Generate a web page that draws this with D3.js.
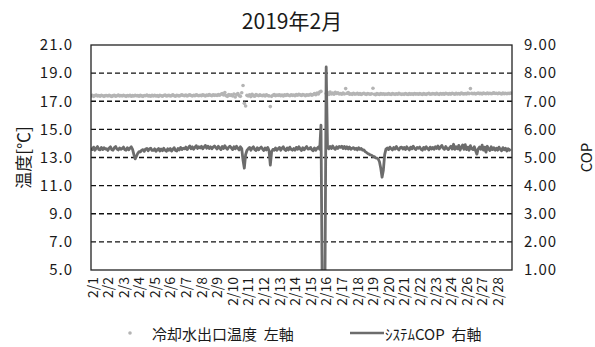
<!DOCTYPE html>
<html>
<head>
<meta charset="utf-8">
<script src="https://cdn.jsdelivr.net/npm/d3@7/dist/d3.min.js"></script>
<style>
  body { margin: 0; background: #fff; }
  svg { display: block; }
  text { font-family: "Noto Sans CJK JP", "Noto Sans", sans-serif; fill: #1a1a1a; }
</style>
</head>
<body>
<svg id="chart" width="595" height="347"></svg>
<script>
// Day labels on the category axis (no data was logged on 2/25)
const dayLabels = ["2/1","2/2","2/3","2/4","2/5","2/6","2/7","2/8","2/9","2/10",
  "2/11","2/12","2/13","2/14","2/15","2/16","2/17","2/18","2/19","2/20",
  "2/21","2/22","2/23","2/24","2/26","2/27","2/28"];

// Readings every 2 hours (12 per day)
const samplesPerDay = 12;

// System COP (right axis)
const copValues = [
  5.34,5.28,5.37,5.26,5.33,5.39,5.29,5.27,5.36,5.28,5.35,5.30, // 2/1
  5.31,5.25,5.34,5.38,5.28,5.26,5.35,5.39,5.30,5.27,5.34,5.29, // 2/2
  5.32,5.37,5.28,5.26,5.35,5.27,5.33,5.38,5.29,5.10,4.95,5.05, // 2/3
  5.15,5.21,5.20,5.26,5.28,5.22,5.30,5.32,5.24,5.31,5.33,5.25, // 2/4
  5.25,5.31,5.22,5.28,5.32,5.23,5.30,5.24,5.33,5.26,5.22,5.31, // 2/5
  5.26,5.32,5.23,5.29,5.35,5.25,5.23,5.32,5.27,5.36,5.28,5.33, // 2/6
  5.31,5.37,5.28,5.35,5.41,5.31,5.38,5.29,5.36,5.42,5.32,5.38, // 2/7
  5.34,5.40,5.31,5.37,5.43,5.33,5.40,5.32,5.38,5.31,5.37,5.41, // 2/8
  5.35,5.30,5.40,5.34,5.28,5.39,5.32,5.42,5.34,5.29,5.37,5.40, // 2/9
  5.34,5.28,5.38,5.31,5.40,5.33,5.27,5.38,5.32,4.90,4.62,5.10, // 2/10
  5.25,5.31,5.36,5.26,5.34,5.38,5.28,5.25,5.35,5.27,5.33,5.37, // 2/11
  5.30,5.25,5.34,5.27,5.36,5.25,4.73,5.20,5.29,5.26,5.34,5.26, // 2/12
  5.31,5.36,5.26,5.33,5.38,5.28,5.25,5.34,5.27,5.37,5.29,5.26, // 2/13
  5.32,5.26,5.36,5.29,5.38,5.30,5.25,5.35,5.27,5.34,5.39,5.30, // 2/14
  5.31,5.36,5.27,5.24,5.34,5.26,5.33,5.37,5.29,6.15,0.00,0.00, // 2/15
  0.00,8.22,5.37,5.31,5.39,5.32,5.41,5.33,5.29,5.38,5.32,5.39, // 2/16
  5.36,5.40,5.32,5.39,5.31,5.38,5.30,5.37,5.29,5.33,5.35,5.29, // 2/17
  5.33,5.27,5.35,5.29,5.32,5.26,5.27,5.21,5.18,5.14,5.12,5.09, // 2/18
  5.08,5.04,5.03,4.99,4.98,4.95,4.85,4.62,4.30,4.55,5.10,5.30, // 2/19
  5.34,5.28,5.37,5.31,5.27,5.36,5.30,5.39,5.31,5.27,5.35,5.37, // 2/20
  5.30,5.36,5.28,5.38,5.32,5.27,5.37,5.31,5.40,5.32,5.28,5.36, // 2/21
  5.33,5.37,5.29,5.26,5.36,5.29,5.38,5.32,5.27,5.37,5.30,5.36, // 2/22
  5.29,5.38,5.32,5.41,5.30,5.37,5.43,5.33,5.29,5.39,5.32,5.28, // 2/23
  5.35,5.40,5.30,5.47,5.29,5.38,5.31,5.43,5.26,5.37,5.45,5.29, // 2/24
  5.46,5.28,5.37,5.26,5.42,5.31,5.28,5.38,5.24,5.12,5.31,5.37, // 2/26
  5.29,5.44,5.26,5.37,5.19,5.40,5.30,5.25,5.38,5.28,5.35,5.26, // 2/27
  5.33,5.26,5.37,5.29,5.24,5.35,5.27,5.33,5.23,5.31,5.26,5.30  // 2/28
];

// Cooling water outlet temperature [°C] (left axis); null = not logged
const tempValues = [
  17.38,17.42,17.35,17.40,17.44,17.37,17.41,17.36,17.43,17.39,17.35,17.40, // 2/1
  17.41,17.37,17.43,17.38,17.34,17.40,17.42,17.36,17.39,17.44,17.38,17.41, // 2/2
  17.37,17.42,17.39,17.35,17.41,17.38,17.43,17.36,17.40,17.37,17.42,17.39, // 2/3
  17.40,17.36,17.42,17.38,17.35,17.41,17.39,17.44,17.37,17.40,17.36,17.42, // 2/4
  17.38,17.43,17.37,17.40,17.35,17.42,17.39,17.36,17.41,17.44,17.38,17.40, // 2/5
  17.42,17.37,17.40,17.45,17.39,17.36,17.43,17.40,17.38,17.42,17.46,17.41, // 2/6
  17.40,17.44,17.38,17.42,17.46,17.41,17.37,17.43,17.40,17.45,17.42,17.39, // 2/7
  17.43,17.40,17.46,17.42,17.38,17.44,17.41,17.47,17.43,17.40,17.45,17.42, // 2/8
  17.44,17.41,17.47,17.43,17.50,17.55,17.45,17.62,17.40,17.35,17.48,17.42, // 2/9
  17.45,17.38,17.52,17.30,17.48,17.55,17.40,17.35,17.60,18.12,16.85,16.66, // 2/10
  17.42,17.38,17.46,17.33,17.50,17.40,17.36,17.48,17.43,17.39,17.45,17.41, // 2/11
  17.40,17.44,17.37,17.46,17.41,17.38,16.62,17.35,17.43,17.47,17.40,17.44, // 2/12
  17.42,17.46,17.40,17.44,17.38,17.45,17.41,17.47,17.43,17.39,17.46,17.42, // 2/13
  17.44,17.40,17.47,17.43,17.50,17.45,17.41,17.48,17.44,17.40,17.46,17.43, // 2/14
  17.45,17.50,17.43,17.48,17.55,17.46,17.58,17.52,17.65,17.70,null,null,   // 2/15
  null,17.55,17.62,17.48,17.65,17.52,17.58,17.50,17.63,17.55,17.60,17.52,  // 2/16
  17.55,17.50,17.58,17.52,17.90,17.56,17.62,17.50,17.53,17.49,17.56,17.51, // 2/17
  17.52,17.56,17.50,17.54,17.48,17.53,17.57,17.51,17.49,17.55,17.52,17.50, // 2/18
  17.53,17.92,17.50,17.47,17.54,17.51,17.48,17.55,17.50,17.53,17.49,17.52, // 2/19
  17.50,17.54,17.51,17.48,17.55,17.52,17.49,17.53,17.50,17.56,17.52,17.49, // 2/20
  17.52,17.49,17.55,17.51,17.48,17.54,17.50,17.53,17.49,17.55,17.51,17.53, // 2/21
  17.50,17.54,17.52,17.48,17.55,17.51,17.49,17.53,17.56,17.50,17.52,17.54, // 2/22
  17.53,17.50,17.56,17.52,17.49,17.55,17.51,17.54,17.50,17.57,17.53,17.51, // 2/23
  17.54,17.51,17.57,17.53,17.50,17.56,17.52,17.55,17.51,17.58,17.54,17.52, // 2/24
  17.55,17.52,17.58,17.54,17.90,17.56,17.53,17.57,17.52,17.55,17.59,17.54, // 2/26
  17.56,17.52,17.58,17.55,17.53,17.59,17.54,17.57,17.53,17.56,17.60,17.55, // 2/27
  17.57,17.53,17.59,17.55,17.52,17.58,17.54,17.57,17.53,17.56,17.55,17.58  // 2/28
];

const leftTicks = [5, 7, 9, 11, 13, 15, 17, 19, 21];
const rightTicks = [1, 2, 3, 4, 5, 6, 7, 8, 9];

const titleText = "2019年2月";
const leftTitle = "温度[℃]";
const rightTitle = "COP";
const tempName = "冷却水出口温度  左軸";
const copName = "ｼｽﾃﾑCOP  右軸";

const tempColor = "#b4b4b4";
const copColor = "#6c6c6c";

const plot = { left: 91, right: 512, top: 45, bottom: 270 };
const svg = d3.select("#chart");

const x = d3.scaleLinear().domain([0, dayLabels.length]).range([plot.left, plot.right]);
const yLeft = d3.scaleLinear().domain([5, 21]).range([plot.bottom, plot.top]);
const yRight = d3.scaleLinear().domain([1, 9]).range([plot.bottom, plot.top]);

const tOf = i => i / samplesPerDay;

svg.append("defs").append("clipPath").attr("id", "plotClip")
  .append("rect")
  .attr("x", plot.left).attr("y", plot.top)
  .attr("width", plot.right - plot.left).attr("height", plot.bottom - plot.top);

// Title
svg.append("text")
  .attr("x", 292).attr("y", 29)
  .attr("text-anchor", "middle")
  .style("font-size", "21px")
  .text(titleText);

// Dashed horizontal gridlines
svg.append("g").selectAll("line")
  .data(leftTicks.filter(v => v > 5 && v < 21))
  .join("line")
  .attr("x1", plot.left).attr("x2", plot.right)
  .attr("y1", d => yLeft(d)).attr("y2", d => yLeft(d))
  .attr("stroke", "#111").attr("stroke-width", 1.3)
  .attr("stroke-dasharray", "5,3");

// Left axis
const leftAxis = d3.axisLeft(yLeft).tickValues(leftTicks).tickSize(0).tickPadding(18)
  .tickFormat(d => d3.format(".1f")(d));
const gl = svg.append("g").attr("transform", `translate(${plot.left},0)`).call(leftAxis);
gl.select(".domain").remove();
gl.selectAll("text").style("font-size", "15px").style("font-family", "\"Noto Sans CJK JP\", sans-serif")
  .attr("fill", "#1a1a1a").attr("letter-spacing", "1px");

// Right axis
const rightAxis = d3.axisRight(yRight).tickValues(rightTicks).tickSize(0).tickPadding(12)
  .tickFormat(d => d3.format(".2f")(d));
const gr = svg.append("g").attr("transform", `translate(${plot.right},0)`).call(rightAxis);
gr.select(".domain").remove();
gr.selectAll("text").style("font-size", "15px").style("font-family", "\"Noto Sans CJK JP\", sans-serif")
  .attr("fill", "#1a1a1a").attr("letter-spacing", "1px");

// Bottom axis: one label per day, rotated
const bottomAxis = d3.axisBottom(x).tickValues(d3.range(dayLabels.length)).tickSize(0)
  .tickFormat(i => dayLabels[i]);
const gb = svg.append("g").attr("transform", `translate(0,${plot.bottom})`).call(bottomAxis);
gb.select(".domain").remove();
gb.selectAll("text")
  .style("font-size", "14px").style("font-family", "\"Noto Sans CJK JP\", sans-serif")
  .attr("fill", "#1a1a1a")
  .attr("text-anchor", "end")
  .attr("dominant-baseline", "central")
  .attr("dy", null)
  .attr("y", 0)
  .attr("transform", "translate(0,7) rotate(-90)");

// Axis titles
svg.append("text")
  .attr("transform", `translate(22,${(plot.top + plot.bottom) / 2}) rotate(-90)`)
  .attr("text-anchor", "middle").attr("dominant-baseline", "central")
  .style("font-size", "17px")
  .text(leftTitle);
svg.append("text")
  .attr("transform", `translate(585,${(plot.top + plot.bottom) / 2}) rotate(-90)`)
  .attr("text-anchor", "middle").attr("dominant-baseline", "central")
  .style("font-size", "15px")
  .text(rightTitle);

// Series
const data = d3.range(copValues.length).map(i => ({ t: tOf(i), cop: copValues[i], temp: tempValues[i] }));
const pg = svg.append("g").attr("clip-path", "url(#plotClip)");

pg.append("g").selectAll("circle")
  .data(data.filter(d => d.temp != null))
  .join("circle")
  .attr("cx", d => x(d.t)).attr("cy", d => yLeft(d.temp))
  .attr("r", 1.8).attr("fill", tempColor);

pg.append("path")
  .datum(data)
  .attr("fill", "none").attr("stroke", copColor).attr("stroke-width", 2.8)
  .attr("stroke-linejoin", "round")
  .attr("d", d3.line().x(d => x(d.t)).y(d => yRight(d.cop)));

// Plot frame
svg.append("rect")
  .attr("x", plot.left).attr("y", plot.top)
  .attr("width", plot.right - plot.left).attr("height", plot.bottom - plot.top)
  .attr("fill", "none").attr("stroke", "#222").attr("stroke-width", 1.3);

// Legend
const lg = svg.append("g").attr("transform", "translate(0,333)");
lg.append("circle").attr("cx", 130).attr("cy", 0).attr("r", 1.8).attr("fill", tempColor);
lg.append("text").attr("x", 152).attr("y", 0).attr("dominant-baseline", "central")
  .style("font-size", "15px").attr("xml:space", "preserve").text(tempName);
lg.append("line").attr("x1", 350).attr("x2", 384).attr("y1", 0).attr("y2", 0)
  .attr("stroke", copColor).attr("stroke-width", 2.6);
lg.append("text").attr("x", 385).attr("y", 0).attr("dominant-baseline", "central")
  .style("font-size", "15px").attr("xml:space", "preserve").text(copName);
</script>
</body>
</html>
